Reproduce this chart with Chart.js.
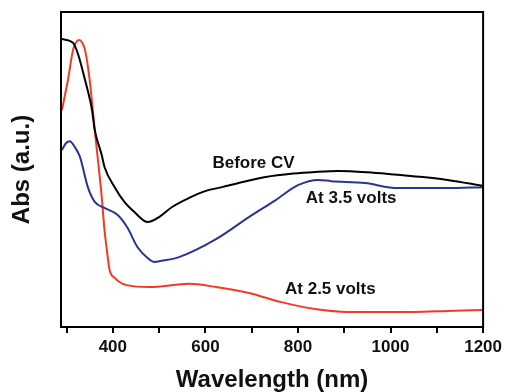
<!DOCTYPE html>
<html>
<head>
<meta charset="utf-8">
<script src="https://cdn.jsdelivr.net/npm/chart.js@4"></script>
<style>
html,body{margin:0;padding:0;background:#fff;}
#wrap{width:506px;height:392px;}
</style>
</head>
<body>
<div id="wrap"><canvas id="c" width="506" height="392"></canvas></div>
<script>
// Before CV (black)
const beforeX = [290, 314, 324, 340, 355, 361, 376, 382, 404, 425, 450, 468, 475, 500, 528, 565, 601, 636, 672, 730, 790, 837, 887, 950, 1015, 1070, 1123, 1200];
const beforeY = [91.4, 90.2, 87.0, 78.4, 68.9, 62.5, 54.6, 50.8, 44.4, 39.7, 36.0, 33.7, 33.3, 34.9, 38.1, 41.0, 43.2, 44.4, 45.7, 47.6, 48.7, 49.2, 49.5, 49.1, 48.3, 47.6, 46.7, 44.8];
// At 3.5 volts (blue)
const v35X = [290, 299, 307, 318, 329, 346, 361, 382, 410, 432, 453, 475, 490, 505, 543, 623, 694, 752, 801, 844, 872, 945, 1015, 1123, 1200];
const v35Y = [56.2, 58.4, 59.0, 57.1, 54.0, 44.4, 39.7, 37.8, 35.6, 31.4, 25.4, 21.9, 20.6, 21.0, 22.2, 27.9, 34.9, 40.3, 45.1, 46.7, 46.3, 45.7, 44.1, 44.1, 44.4];
// At 2.5 volts (red)
const v25X = [290, 303, 314, 320, 327, 334, 340, 350, 361, 376, 382, 389, 393, 404, 430, 479, 565, 623, 694, 764, 837, 908, 979, 1052, 1123, 1200];
const v25Y = [68.9, 78.4, 87.9, 90.2, 91.1, 90.2, 87.9, 78.4, 62.5, 41.3, 30.8, 22.2, 18.1, 15.6, 13.3, 12.7, 13.7, 12.7, 10.8, 7.9, 5.7, 4.8, 4.8, 4.8, 5.1, 5.4];
// x tick labels
const xTickLabels = [400, 600, 800, 1000, 1200];
// curve labels
const labelTexts = ['Before CV', 'At 3.5 volts', 'At 2.5 volts'];
const labelX = [704, 915, 870];
const labelY = [52, 41, 12];

const pts = (xs, ys) => xs.map((x, i) => ({x, y: ys[i]}));

const framePlugin = {
  id: 'frame',
  afterDraw(chart) {
    const {ctx, chartArea: a, scales} = chart;
    ctx.save();
    ctx.strokeStyle = '#000';
    ctx.lineWidth = 2;
    ctx.strokeRect(a.left, a.top, a.right - a.left, a.bottom - a.top);
    ctx.fillStyle = '#111';
    ctx.font = 'bold 17px "Liberation Sans", Arial, sans-serif';
    ctx.textAlign = 'center';
    ctx.textBaseline = 'middle';
    labelTexts.forEach((t, i) => {
      ctx.fillText(t, scales.x.getPixelForValue(labelX[i]), scales.y.getPixelForValue(labelY[i]));
    });
    ctx.restore();
  }
};

new Chart(document.getElementById('c'), {
  type: 'line',
  data: {
    datasets: [
      {label: 'Before CV', data: pts(beforeX, beforeY), borderColor: '#000000', borderWidth: 2, pointRadius: 0, cubicInterpolationMode: 'monotone'},
      {label: 'At 3.5 volts', data: pts(v35X, v35Y), borderColor: '#2a3593', borderWidth: 2, pointRadius: 0, cubicInterpolationMode: 'monotone'},
      {label: 'At 2.5 volts', data: pts(v25X, v25Y), borderColor: '#f43a22', borderWidth: 2, pointRadius: 0, cubicInterpolationMode: 'monotone'}
    ]
  },
  options: {
    responsive: false,
    animation: false,
    devicePixelRatio: 1,
    layout: {padding: {top: 12, right: 20, left: 0, bottom: 0}},
    plugins: {legend: {display: false}, tooltip: {enabled: false}},
    scales: {
      x: {
        type: 'linear', min: 288, max: 1200,
        afterFit(s) { s.height = 65; },
        grid: {display: true, drawOnChartArea: false, drawTicks: true, tickLength: 6, color: '#000', lineWidth: 2},
        border: {display: true, color: '#000', width: 2},
        ticks: {
          stepSize: 100, includeBounds: false, maxRotation: 0, autoSkip: false, padding: 4,
          color: '#111', font: {family: '"Liberation Sans", Arial, sans-serif', size: 17, weight: 'bold'},
          callback: v => xTickLabels.includes(v) ? String(v) : ''
        },
        title: {display: true, text: 'Wavelength (nm)', color: '#111', padding: {top: 0, bottom: 0},
          font: {family: '"Liberation Sans", Arial, sans-serif', size: 24, weight: 'bold', lineHeight: 1}}
      },
      y: {
        min: 0, max: 100,
        afterFit(s) { s.width = 61; },
        grid: {display: false},
        border: {display: true, color: '#000', width: 2},
        ticks: {display: false},
        title: {display: true, text: 'Abs (a.u.)', color: '#111', padding: {top: 10, bottom: 0},
          font: {family: '"Liberation Sans", Arial, sans-serif', size: 24, weight: 'bold', lineHeight: 1}}
      }
    }
  },
  plugins: [framePlugin]
});
</script>
</body>
</html>
